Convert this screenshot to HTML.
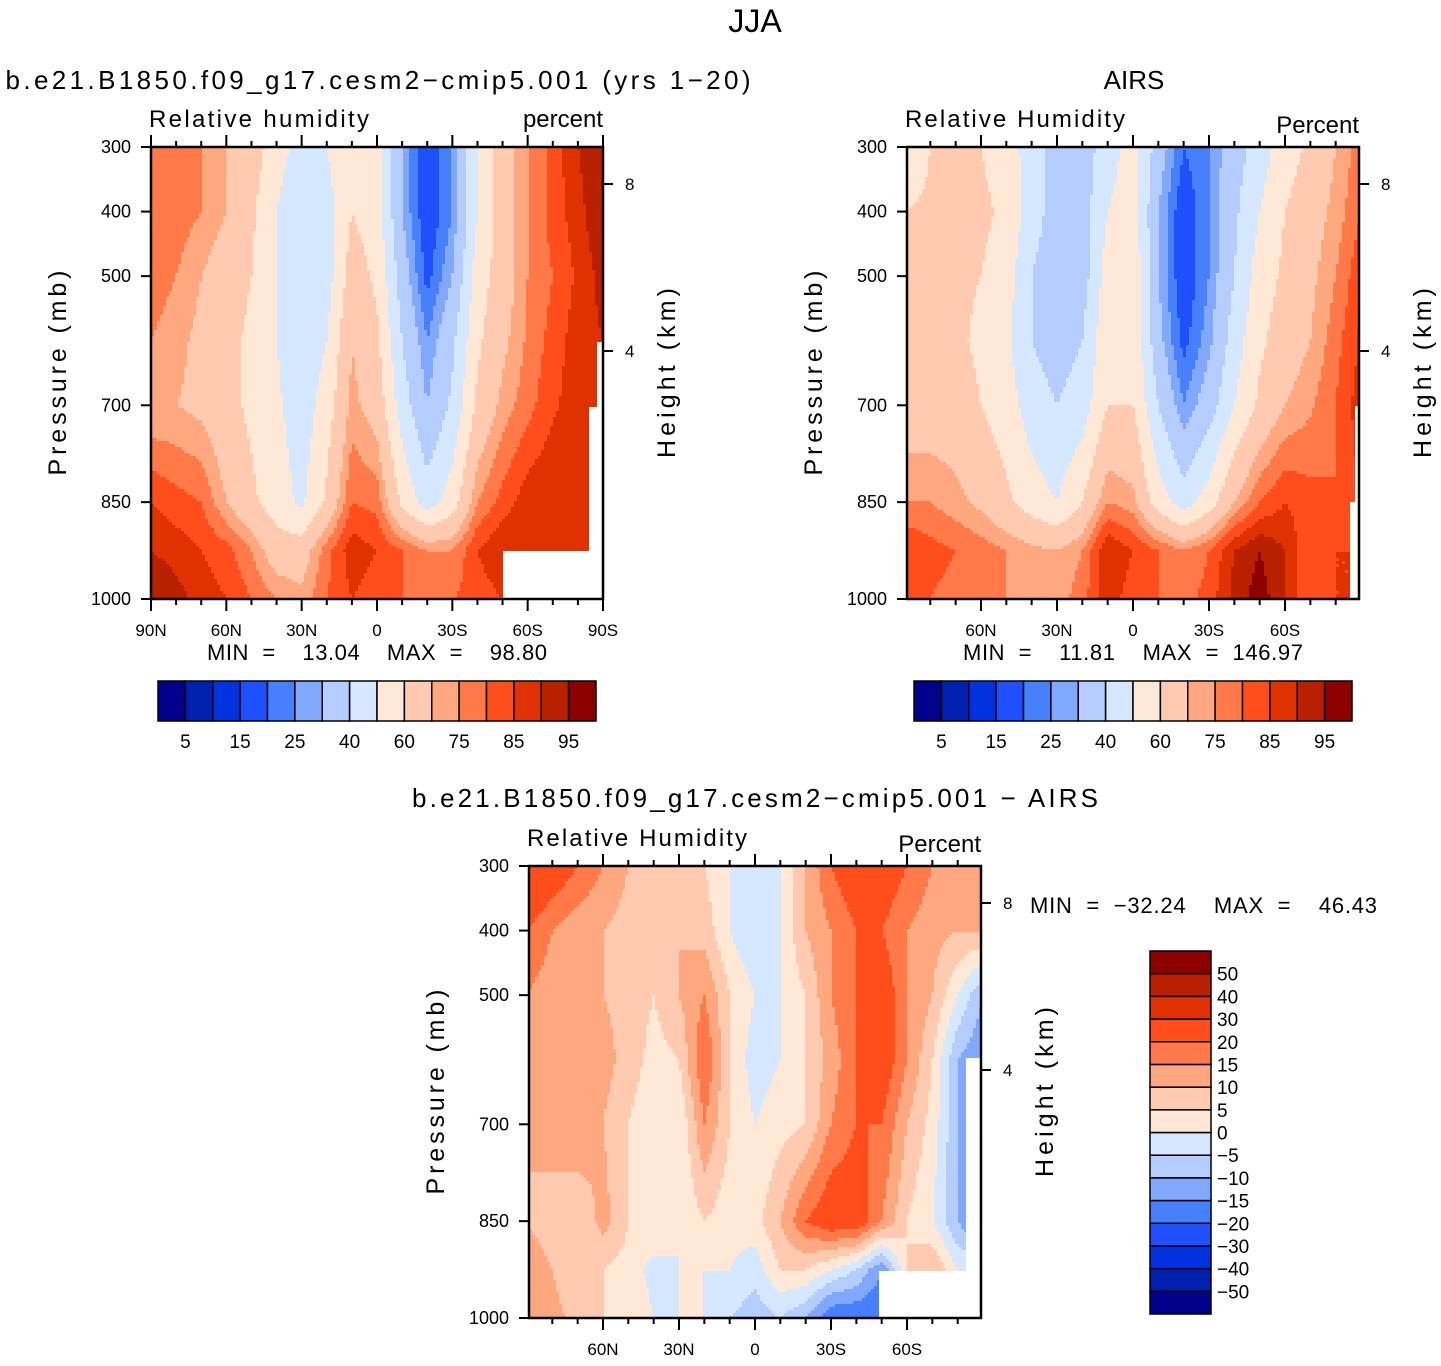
<!DOCTYPE html>
<html><head><meta charset="utf-8"><style>
body{margin:0;background:#fff;width:1441px;height:1361px;overflow:hidden}
svg text{font-family:"Liberation Sans",sans-serif;fill:#000}
</style></head><body>
<svg id="fig" width="1441" height="1361" xmlns="http://www.w3.org/2000/svg">
<text x="755" y="32" font-size="32" text-anchor="middle">JJA</text>
<text x="378" y="89" font-size="26" text-anchor="middle" textLength="745">b.e21.B1850.f09_g17.cesm2−cmip5.001  (yrs  1−20)</text>
<text x="1134" y="89" font-size="26" text-anchor="middle">AIRS</text>
<text x="755" y="807" font-size="26" text-anchor="middle" textLength="686">b.e21.B1850.f09_g17.cesm2−cmip5.001  −  AIRS</text>
<text x="377" y="660" font-size="22" text-anchor="middle" xml:space="preserve" textLength="340">MIN  =    13.04    MAX  =    98.80</text>
<text x="1133" y="660" font-size="22" text-anchor="middle" xml:space="preserve" textLength="340">MIN  =    11.81    MAX  =  146.97</text>
<text x="1030" y="913" font-size="22" xml:space="preserve" textLength="347">MIN  =  −32.24    MAX  =    46.43</text>
<g id="layer"></g>
</svg>
<script>
const lats=[90,80,70,60,50,40,30,20,10,0,-10,-20,-30,-40,-50,-60,-70,-80,-90];
const plevs=[300,400,500,600,700,850,925,1000];
const rhModel=[
[80,75,75,70,65,55,45,50,60,55,30,15,25,50,65,75,82,90,95],
[80,78,75,70,62,50,40,45,60,55,30,15,25,50,65,75,82,88,95],
[78,75,70,65,60,50,40,45,65,58,35,18,30,55,65,75,80,86,92],
[75,72,68,63,58,50,42,50,70,62,40,25,38,58,68,76,82,88,90],
[70,70,68,63,58,52,44,55,72,66,45,30,42,62,72,78,84,88,88],
[85,82,80,70,62,55,48,62,80,78,58,45,55,75,82,88,90,88,88],
[90,88,85,82,75,65,65,78,88,85,80,75,75,85,90,88,88,88,88],
[95,92,88,85,80,75,72,80,85,82,80,78,80,82,85,85,85,85,85]];
const rhAirs=[
[50,60,65,60,55,45,35,35,45,55,35,20,25,35,45,55,62,70,78],
[60,62,63,62,58,45,35,35,50,55,30,15,25,38,50,60,66,72,80],
[62,62,62,60,55,40,33,35,55,58,30,15,25,40,55,62,68,75,84],
[62,62,62,58,52,40,35,40,58,58,33,18,28,45,58,65,70,78,86],
[65,65,65,60,55,45,40,45,60,60,40,25,35,50,62,70,74,80,88],
[75,75,72,68,62,55,50,60,75,72,55,45,55,70,80,85,82,80,85],
[85,82,80,78,75,72,70,75,90,85,80,75,80,90,95,90,80,85,85],
[80,80,78,78,75,72,72,78,88,82,80,78,82,92,98,90,80,85,85]];
const rhDiff=[
[30,25,20,15,10,5,10,5,0,-5,0,10,20,25,25,20,15,10,15],
[20,15,12,10,8,5,10,8,0,-5,0,10,15,20,20,15,12,10,10],
[15,12,10,10,8,5,10,15,5,0,0,5,15,20,25,15,10,0,-10],
[12,12,12,12,8,3,5,20,5,-3,0,5,12,20,25,15,5,-10,-15],
[10,12,15,10,5,0,0,15,5,0,3,5,15,20,20,10,3,-10,-20],
[10,8,5,12,5,5,0,5,2,3,10,20,25,25,15,5,0,-10,-20],
[12,10,5,5,3,-2,0,0,0,-3,5,5,0,-5,-15,5,10,0,0],
[15,12,8,5,5,0,0,0,-5,-8,-5,-10,-20,-20,-20,0,0,0,0]];
const levelsRH=[5,10,15,20,25,30,40,50,60,70,75,80,85,90,95];
const levelsDiff=[-50,-40,-30,-20,-15,-10,-5,0,5,10,15,20,30,40,50];
const rhTickLabels=["5","15","25","40","60","75","85","95"];
const diffTickLabels=["−50","−40","−30","−20","−15","−10","−5","0","5","10","15","20","30","40","50"];
const pTicks=[300,400,500,700,850,1000];
const latTickVals=[90,60,30,0,-30,-60,-90];
const latTickNames=["90N","60N","30N","0","30S","60S","90S"];
const colors=["#00008c","#0021b0","#0032e0","#1e50ff","#4680ff","#80a8ff","#b4ccff","#d6e8ff","#ffe8d6","#ffcab0","#ffa880","#ff7a48","#ff4e1c","#e03200","#b82000","#8c0000"];

const NS="http://www.w3.org/2000/svg";
const layer=document.getElementById('layer');
function mk(tag,attrs,parent){const e=document.createElementNS(NS,tag);for(const k in attrs)e.setAttribute(k,attrs[k]);(parent||layer).appendChild(e);return e;}
function interp(arr,x,y){
  x=Math.max(0,Math.min(lats.length-1,x));y=Math.max(0,Math.min(plevs.length-1,y));
  const i=Math.min(Math.floor(x),lats.length-2),j=Math.min(Math.floor(y),plevs.length-2);
  const fx=x-i,fy=y-j;
  return arr[j][i]*(1-fx)*(1-fy)+arr[j][i+1]*fx*(1-fy)+arr[j+1][i]*(1-fx)*fy+arr[j+1][i+1]*fx*fy;
}
function pIndex(p){for(let j=0;j<plevs.length-1;j++){if(p<=plevs[j+1])return j+(p-plevs[j])/(plevs[j+1]-plevs[j]);}return plevs.length-1;}
function colorIdx(v,lv){let k=0;while(k<lv.length&&v>=lv[k])k++;return k;}

function panel(name,data,lv,x0,x1,y0,y1,latL,latR,showAllLat,blanks,ttlL,ttlR,ttlRy){
  const g=mk('g',{});
  
  
  const xs=v=>x0+(latL-v)/(latL-latR)*(x1-x0);
  const ys=p=>y0+(p-300)/700*(y1-y0);
  const step=3;
  function addRun(a,b,py,c){
    const r=mk('rect',{x:a,y:py,width:b-a+0.6,height:Math.min(step,y1-py)+0.6,fill:colors[c]},g);
    
    
  }
  for(let py=y0;py<y1;py+=step){
    const p=300+(Math.min(py+step/2,y1)-y0)/(y1-y0)*700;
    const yi=pIndex(p);
    let runStart=x0,runC=-1;
    for(let px=x0;px<x1;px+=step){
      const lat=latL-(Math.min(px+step/2,x1)-x0)/(x1-x0)*(latL-latR);
      const c=colorIdx(interp(data,(90-lat)/10,yi),lv);
      if(c!==runC){ if(runC>=0) addRun(runStart,px,py,runC); runStart=px;runC=c; }
    }
    addRun(runStart,x1,py,runC);
  }
  blanks.forEach(b=>{const r=mk('rect',{x:b[0],y:b[1],width:b[2],height:b[3],fill:'#fff'},g);
    
    });
  const fr=mk('rect',{x:x0,y:y0,width:x1-x0,height:y1-y0,fill:'none',stroke:'#000','stroke-width':2.5},g);
  
  
  pTicks.forEach(p=>{const y=ys(p);mk('line',{x1:x0-10,x2:x0,y1:y,y2:y,stroke:'#000','stroke-width':2},g);
    const t=mk('text',{x:x0-20,y:y+6,'font-size':18,'text-anchor':'end'},g);t.textContent=p;
    
    });
  for(let v=90;v>=-90;v-=10){const x=xs(v);if(x<x0-1||x>x1+1)continue;const maj=v%30===0;
    mk('line',{x1:x,x2:x,y1:y1,y2:y1+(maj?12:6),stroke:'#000','stroke-width':2},g);
    mk('line',{x1:x,x2:x,y1:y0,y2:y0-(maj?12:6),stroke:'#000','stroke-width':2},g);}
  latTickVals.forEach((v,i)=>{if(!showAllLat&&Math.abs(v)===90)return;const t=mk('text',{x:xs(v),y:y1+37,'font-size':17,'text-anchor':'middle'},g);t.textContent=latTickNames[i];
    
    });
  [[8,y0+37],[4,y0+204]].forEach(h=>{mk('line',{x1:x1,x2:x1+10,y1:h[1],y2:h[1],stroke:'#000','stroke-width':2},g);
    const t=mk('text',{x:x1+22,y:h[1]+6,'font-size':17},g);t.textContent=h[0];
    
    });
  let t=mk('text',{x:x0-2,y:y0-20,'font-size':24,textLength:220},g);t.textContent=ttlL;
  
  
  t=mk('text',{x:x1,y:ttlRy,'font-size':24,'text-anchor':'end'},g);t.textContent=ttlR;
  
  
  t=mk('text',{transform:`translate(${x0-85},${(y0+y1)/2}) rotate(-90)`,'font-size':25,'text-anchor':'middle',textLength:205},g);t.textContent='Pressure  (mb)';
  
  
  t=mk('text',{transform:`translate(${x1+72},${(y0+y1)/2}) rotate(-90)`,'font-size':25,'text-anchor':'middle',textLength:170},g);t.textContent='Height  (km)';
  
  
}
function hbar(name,x0,y0,w,h){
  const g=mk('g',{});
  
  
  const bw=w/colors.length;
  colors.forEach((c,i)=>{const r=mk('rect',{x:x0+i*bw,y:y0,width:bw,height:h,fill:c,stroke:'#000','stroke-width':1.5},g);
    
    });
  rhTickLabels.forEach((s,k)=>{const t=mk('text',{x:x0+(2*k+1)*bw,y:y0+67,'font-size':19,'text-anchor':'middle'},g);t.textContent=s;
    
    });
}
panel('panel-model',rhModel,levelsRH,151,603,147,599,90,-90,true,[[503,551,86,48],[597,342,6,257],[589,407,14,192]],'Relative  humidity','percent',127);
panel('panel-airs',rhAirs,levelsRH,907,1359,147,599,89.2,-89.2,false,[[1355,406,4,193],[1350,502,9,97]],'Relative  Humidity','Percent',133);
panel('panel-difference',rhDiff,levelsDiff,529,981,866,1318,89.2,-89.2,false,[[879,1271,102,47],[966,1058,15,260]],'Relative  Humidity','Percent',852);
hbar('colorbar-model',158,681,438,40);
hbar('colorbar-airs',914,681,438,40);
(function(){
  const g=mk('g',{});
  
  
  const x0=1150,y0=951,w=61,H=363,bh=H/colors.length;
  colors.forEach((c,i)=>{const r=mk('rect',{x:x0,y:y0+H-(i+1)*bh,width:w,height:bh,fill:c,stroke:'#000','stroke-width':1.5},g);
    
    });
  diffTickLabels.forEach((s,k)=>{const t=mk('text',{x:x0+w+6,y:y0+H-(k+1)*bh+7,'font-size':19},g);t.textContent=s;
    
    });
})();
</script>
</body></html>
